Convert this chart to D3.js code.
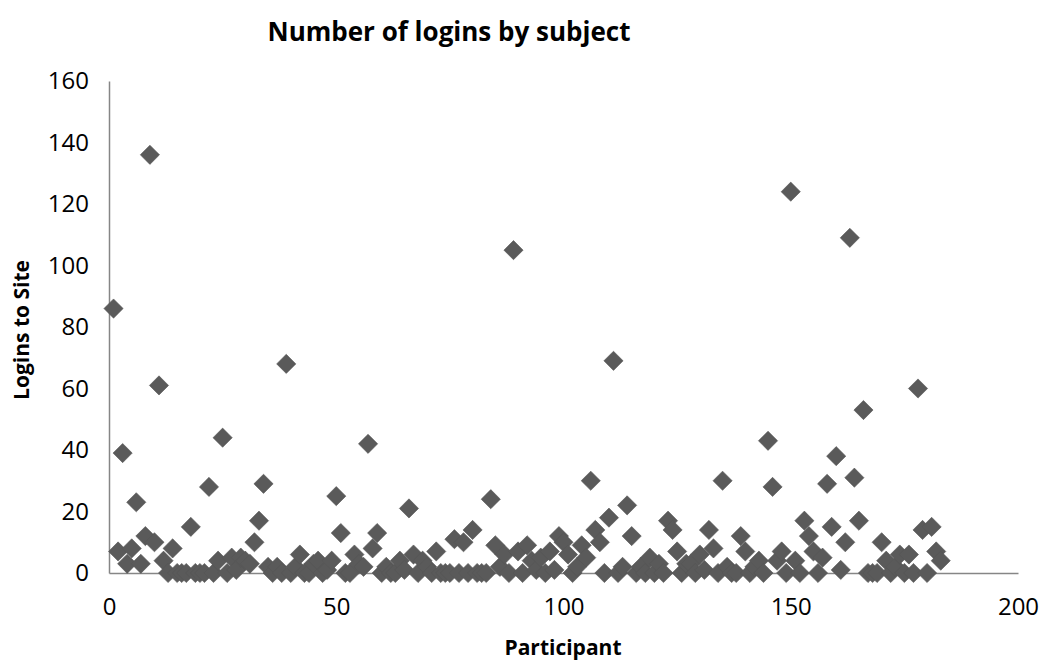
<!DOCTYPE html>
<html>
<head>
<meta charset="utf-8">
<script src="https://cdn.jsdelivr.net/npm/d3@7"></script>
<style>
  html, body { margin: 0; padding: 0; background: #fff; }
  text { font-family: "Open Sans", "Liberation Sans", sans-serif; fill: #000; }
</style>
</head>
<body>
<svg id="chart" width="1043" height="661"></svg>
<script>
// ---- data ----
const participants = d3.range(1, 184);
const logins = [
  86, 7, 39, 3, 8, 23, 3, 12, 136, 10,
  61, 4, 0, 8, 0, 0, 0, 15, 0, 0,
  0, 28, 0, 4, 44, 0, 5, 1, 5, 4,
  3, 10, 17, 29, 2, 0, 2, 0, 68, 0,
  2, 6, 0, 0, 3, 4, 0, 1, 4, 25,
  13, 0, 0, 6, 3, 2, 42, 8, 13, 0,
  2, 0, 0, 4, 1, 21, 6, 0, 4, 2,
  0, 7, 0, 0, 0, 11, 0, 10, 0, 14,
  0, 0, 0, 24, 9, 2, 6, 0, 105, 7,
  0, 9, 4, 1, 5, 0, 7, 1, 12, 10,
  6, 0, 2, 9, 5, 30, 14, 10, 0, 18,
  69, 0, 2, 22, 12, 0, 2, 0, 5, 0,
  3, 0, 17, 14, 7, 0, 3, 3, 0, 6,
  1, 14, 8, 0, 30, 2, 0, 0, 12, 7,
  0, 2, 4, 0, 43, 28, 4, 7, 0, 124,
  4, 0, 17, 12, 7, 0, 5, 29, 15, 38,
  1, 10, 109, 31, 17, 53, 0, 0, 0, 10,
  4, 0, 2, 6, 0, 6, 0, 60, 14, 0,
  15, 7, 4
];
const xTicks = [0, 50, 100, 150, 200];
const yTicks = [0, 20, 40, 60, 80, 100, 120, 140, 160];
const titleText = "Number of logins by subject";
const xTitle = "Participant";
const yTitle = "Logins to Site";

// ---- layout ----
const svg = d3.select("#chart");
const x = d3.scaleLinear().domain([0, 200]).range([109, 1018]);
const y = d3.scaleLinear().domain([0, 160]).range([573, 81]);
const axisColor = "#868686";

// axes
const xAxis = d3.axisBottom(x).tickValues(xTicks).tickSize(0).tickPadding(22).tickFormat(d3.format("d"));
const yAxis = d3.axisLeft(y).tickValues(yTicks).tickSize(0).tickPadding(20).tickFormat(d3.format("d"));

const gx = svg.append("g").attr("transform", `translate(0,${y(0)})`).call(xAxis);
const gy = svg.append("g").attr("transform", `translate(${x(0)},0)`).call(yAxis);
[gx, gy].forEach(g => {
  g.select(".domain").attr("stroke", axisColor).attr("stroke-width", 1.5);
  g.selectAll("text").style("font-size", "24px").style("font-family", "'Open Sans', sans-serif").attr("fill", "#000");
});
gx.selectAll("text").attr("dy", "0.71em").attr("y", 25);

// points
const r = 9.6;
const diamond = `M0,${-r}L${r},0L0,${r}L${-r},0Z`;
svg.append("g").selectAll("path")
  .data(participants.map((p, i) => ({ p, v: logins[i] })))
  .join("path")
  .attr("d", diamond)
  .attr("transform", d => `translate(${x(d.p)},${y(d.v)})`)
  .attr("fill", "#5a5a5a")
  .attr("stroke", "#555")
  .attr("stroke-width", 0.6);

// titles
svg.append("text").attr("x", 449).attr("y", 41).attr("text-anchor", "middle")
  .style("font-size", "26px").style("font-weight", "bold").text(titleText);
svg.append("text").attr("x", 563).attr("y", 655).attr("text-anchor", "middle")
  .style("font-size", "21px").style("font-weight", "bold").text(xTitle);
svg.append("text").attr("transform", "translate(29,330) rotate(-90)").attr("text-anchor", "middle")
  .style("font-size", "21px").style("font-weight", "bold").text(yTitle);
</script>
</body>
</html>
